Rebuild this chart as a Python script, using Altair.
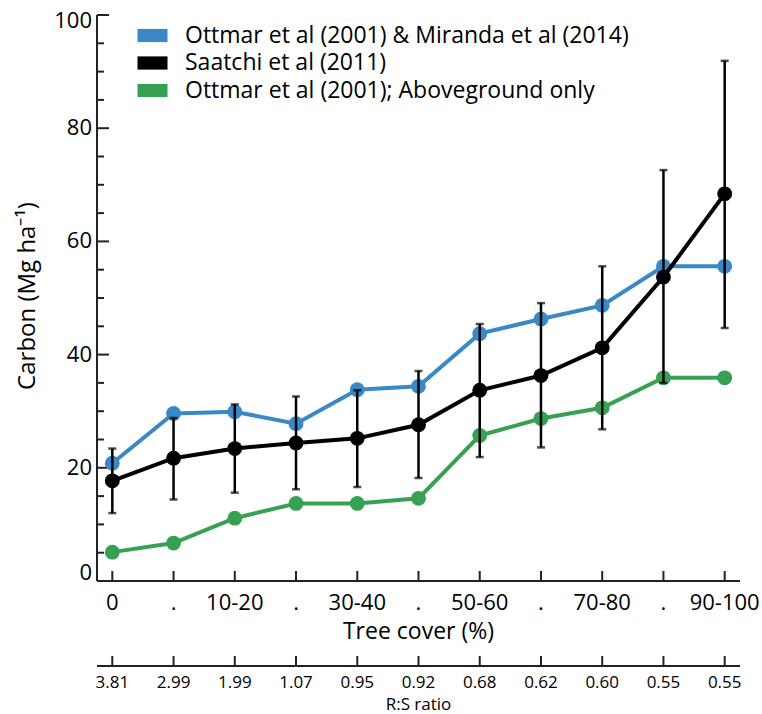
import altair as alt
import pandas as pd

# ---------------- data ----------------
cover_labels = ["0", ".", "10-20", ".", "30-40", ".", "50-60", ".", "70-80", ".", "90-100"]
rs_ratio = ["3.81", "2.99", "1.99", "1.07", "0.95", "0.92", "0.68", "0.62", "0.60", "0.55", "0.55"]
series_names = [
    "Ottmar et al (2001) & Miranda et al (2014)",
    "Saatchi et al (2011)",
    "Ottmar et al (2001); Aboveground only",
]
series_colors = ["#3A88C5", "#000000", "#36A153"]
blue_vals = [20.8, 29.6, 29.9, 27.8, 33.8, 34.4, 43.7, 46.3, 48.7, 55.6, 55.6]
black_vals = [17.7, 21.7, 23.4, 24.4, 25.2, 27.6, 33.7, 36.3, 41.2, 53.7, 68.4]
black_hi = [23.4, 28.8, 31.2, 32.6, 33.7, 37.1, 45.4, 49.1, 55.6, 72.6, 91.9]
black_lo = [12.0, 14.4, 15.6, 16.2, 16.6, 18.2, 21.9, 23.6, 26.8, 35.0, 44.7]
green_vals = [5.1, 6.7, 11.1, 13.7, 13.7, 14.6, 25.7, 28.7, 30.6, 35.9, 35.9]
y_major = [0, 20, 40, 60, 80, 100]
y_minor = [5, 10, 15, 25, 30, 35, 45, 50, 55, 65, 70, 75, 85, 90, 95]
y_title = "Carbon (Mg ha⁻¹)"
x_title = "Tree cover (%)"
rs_title = "R:S ratio"

# ---------------- tables ----------------
idx = list(range(len(cover_labels)))
long_rows = []
for name, vals in zip(series_names, [blue_vals, black_vals, green_vals]):
    for i, v in zip(idx, vals):
        long_rows.append({"i": i, "v": v, "series": name})
df = pd.DataFrame(long_rows)
df_err = pd.DataFrame({"i": idx, "lo": black_lo, "hi": black_hi})
df_x = pd.DataFrame({"i": idx, "cover": cover_labels, "rs": rs_ratio})
df_ymaj = pd.DataFrame({"v": y_major, "lab": [str(v) for v in y_major]})
df_ymin = pd.DataFrame({"v": y_minor})
df_one = pd.DataFrame({"yt": [y_title], "xt": [x_title], "rt": [rs_title]})

FONT = "Open Sans"
W, H = 643, 566
AX = "#222222"
RS_OFF = 85
xscale = alt.Scale(domain=[-0.25, 10.25], nice=False, zero=False)
yscale = alt.Scale(domain=[0, 100], nice=False, zero=False)
color_scale = alt.Scale(domain=series_names, range=series_colors)


def X(field="i:Q"):
    return alt.X(field, scale=xscale, axis=None)


def Y(field):
    return alt.Y(field, scale=yscale, axis=None)


def txt(**kw):
    base = dict(font=FONT, color="black", baseline="middle")
    base.update(kw)
    return base


layers = []

# ---- y axis from marks ----
one = alt.Chart(df_one)
layers.append(one.mark_rule(color=AX, strokeWidth=2).encode(
    x=alt.value(0), y=alt.value(0), y2=alt.value(H)))
layers.append(alt.Chart(df_ymaj).mark_rule(color=AX, strokeWidth=2).encode(
    y=Y("v:Q"), x=alt.value(0), x2=alt.value(12)))
layers.append(alt.Chart(df_ymin).mark_rule(color=AX, strokeWidth=2).encode(
    y=Y("v:Q"), x=alt.value(0), x2=alt.value(7)))
ymin_v, ymax_v = min(y_major), max(y_major)
for cond, dy in [(f"datum.v > {ymin_v} && datum.v < {ymax_v}", 0),
                 (f"datum.v == {ymax_v}", 6), (f"datum.v == {ymin_v}", -8)]:
    layers.append(
        alt.Chart(df_ymaj).transform_filter(cond).mark_text(
            **txt(align="right", fontSize=22, dy=dy)
        ).encode(y=Y("v:Q"), x=alt.value(-5), text="lab:N")
    )
layers.append(one.mark_text(**txt(angle=270, align="center", fontSize=24)).encode(
    x=alt.value(-69), y=alt.value(H / 2 - 2), text="yt:N"))

# ---- tree-cover x axis from marks ----
layers.append(one.mark_rule(color=AX, strokeWidth=2).encode(
    x=alt.value(0), x2=alt.value(W), y=alt.value(H)))
layers.append(alt.Chart(df_x).mark_rule(color=AX, strokeWidth=2).encode(
    x=X(), y=alt.value(H), y2=alt.value(H - 10)))
layers.append(alt.Chart(df_x).mark_text(**txt(align="center", fontSize=22)).encode(
    x=X(), y=alt.value(H + 22), text="cover:N"))
layers.append(one.mark_text(**txt(align="center", fontSize=23)).encode(
    x=alt.value(W / 2), y=alt.value(H + 51), text="xt:N"))

# ---- R:S ratio axis from marks ----
layers.append(one.mark_rule(color=AX, strokeWidth=2).encode(
    x=alt.value(0), x2=alt.value(W), y=alt.value(H + RS_OFF)))
layers.append(alt.Chart(df_x).mark_rule(color=AX, strokeWidth=2).encode(
    x=X(), y=alt.value(H + RS_OFF), y2=alt.value(H + RS_OFF - 10)))
layers.append(alt.Chart(df_x).mark_text(**txt(align="center", fontSize=17)).encode(
    x=X(), y=alt.value(H + RS_OFF + 17), text="rs:N"))
layers.append(one.mark_text(**txt(align="center", fontSize=17)).encode(
    x=alt.value(W / 2), y=alt.value(H + RS_OFF + 39), text="rt:N"))

# ---- series ----
legend = alt.Legend(
    orient="none", legendX=44, legendY=9, title=None,
    symbolType="M-1.5,-0.66H1.5V0.66H-1.5Z", symbolSize=400, symbolStrokeWidth=0,
    labelFontSize=23, labelFont=FONT, labelColor="black", labelOffset=21,
    rowPadding=3.5, padding=0, labelLimit=0,
)

for name, col in [(series_names[0], series_colors[0]), (series_names[2], series_colors[2]),
                  (series_names[1], series_colors[1])]:
    base = alt.Chart(df).transform_filter(alt.datum.series == name)
    layers.append(base.mark_line(color=col, strokeWidth=4).encode(x=X(), y=Y("v:Q")))
    layers.append(
        base.mark_point(filled=True, size=220, opacity=1).encode(
            x=X(), y=Y("v:Q"),
            color=alt.Color("series:N", scale=color_scale, legend=legend),
        )
    )

# ---- error bars ----
layers.append(alt.Chart(df_err).mark_rule(color="black", strokeWidth=2.5).encode(
    x=X(), y=Y("lo:Q"), y2="hi:Q"))
for fld in ["lo", "hi"]:
    layers.append(
        alt.Chart(df_err).mark_tick(color="black", orient="horizontal", size=8, thickness=2.5).encode(
            x=X(), y=Y(f"{fld}:Q")
        )
    )

# keep the right edge of the plot frame-free (the reference has no right border)
layers.append(one.mark_rule(color="white", strokeWidth=4).encode(
    x=alt.value(W), y=alt.value(0), y2=alt.value(H - 1)))

chart = (
    alt.layer(*layers)
    .properties(
        width=W, height=H,
        autosize=alt.AutoSizeParams(type="none"),
        padding={"left": 97, "top": 15, "right": 22, "bottom": 133},
        background="white",
        view=alt.ViewBackground(stroke="transparent", strokeWidth=0, strokeOpacity=0),
    )
    .configure_view(stroke="transparent", strokeWidth=0, strokeOpacity=0)
    .configure(font=FONT)
)

chart.save("out.html", embed_options={"renderer": "svg", "actions": False})
